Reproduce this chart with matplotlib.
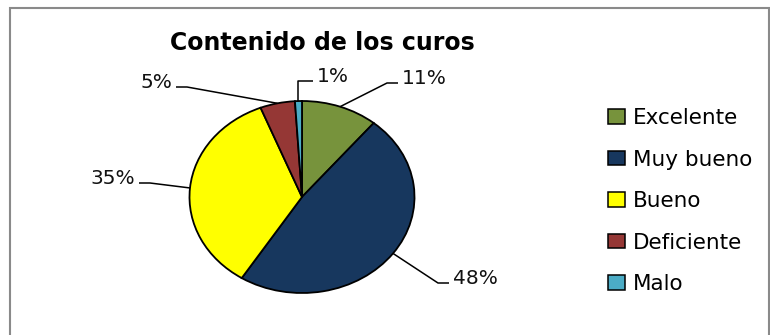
import matplotlib.pyplot as plt
import numpy as np
from matplotlib.patches import Patch, Rectangle

# Data
categories = ["Excelente", "Muy bueno", "Bueno", "Deficiente", "Malo"]
values = [11, 48, 35, 5, 1]
colors = ["#77933C", "#17375E", "#FFFF00", "#953735", "#4BACC6"]
title = "Contenido de los curos"

# Layout (pixels in a 770x335 canvas)
W, H = 770, 335
CX, CY = 302, 197          # pie centre
RX, RY = 112.5, 96         # pie radii (elliptic pie)
# elbow point of each leader line, and side on which the text sits
elbows = [(387, 83), (438, 283), (150, 183), (187, 87), (302, 81)]
sides = [1, 1, -1, -1, 1]

fig = plt.figure(figsize=(W / 100, H / 100), dpi=100)
plt.rcParams["font.family"] = ["DejaVu Sans"]

ax_w, ax_h = 2.5 * RX, 2.5 * RY
ax = fig.add_axes([(CX - ax_w / 2) / W, (H - CY - ax_h / 2) / H, ax_w / W, ax_h / H])
wedges, _ = ax.pie(values, colors=colors, startangle=90, counterclock=False,
                   wedgeprops=dict(edgecolor="black", linewidth=1.3))
ax.set_aspect("auto")
ax.set_xlim(-1.25, 1.25)
ax.set_ylim(-1.25, 1.25)
ax.axis("off")


def px2d(px, py):
    return (px - CX) / RX, (CY - py) / RY


# leader lines and percentage labels
total = float(sum(values))
start = 0.0
for val, (ex, ey), side in zip(values, elbows, sides):
    mid = np.deg2rad(90 - 360 * (start + val / 2) / total)
    start += val
    x0, y0 = np.cos(mid), np.sin(mid)
    x1, y1 = px2d(ex, ey)
    if abs(x0 - x1) < 0.06:
        x1 = x0
    x2, _ = px2d(ex + side * 11, ey)
    ax.plot([x0, x1, x2], [y0, y1, y1], color="black", lw=1.1,
            clip_on=False, solid_capstyle="butt")
    xt, yt = px2d(ex + side * 15, ey - 4)
    ax.text(xt, yt, f"{val}%", fontsize=14.5, ha="left" if side > 0 else "right",
            va="center", color="#111111")

fig.text(322 / W, (H - 43) / H, title, fontsize=17, fontweight="bold",
         ha="center", va="center")

handles = [Patch(facecolor=c, edgecolor="black", linewidth=1.1) for c in colors]
fig.legend(handles, categories, loc="upper left",
           bbox_to_anchor=(608 / W, (H - 108) / H), frameon=False,
           fontsize=15.5, handlelength=0.8, handleheight=0.65,
           handletextpad=0.35, labelspacing=1.0, borderpad=0, borderaxespad=0)

# outer chart border (bottom edge is cut off in the reference)
fig.patches.append(Rectangle((10 / W, -0.05), 759 / W, (H - 8) / H + 0.05,
                             transform=fig.transFigure, fill=False,
                             edgecolor="#8a8a8a", linewidth=1.5))

fig.savefig("out.png", dpi=100)
